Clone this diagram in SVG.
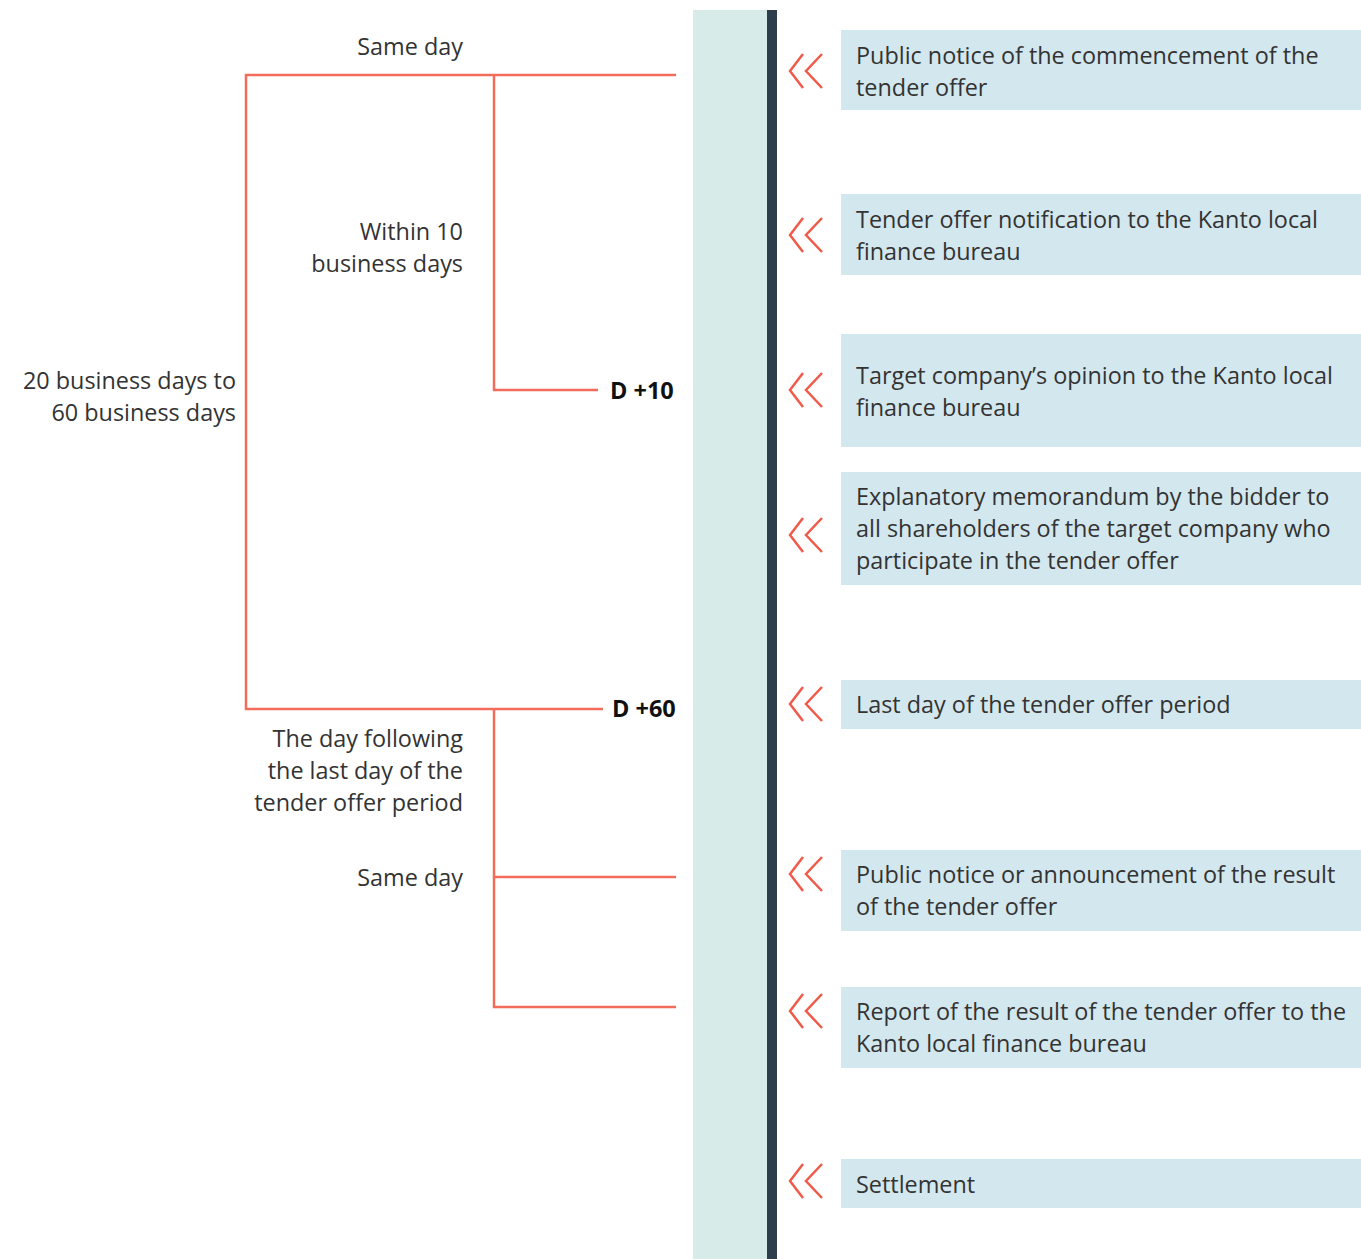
<svg xmlns="http://www.w3.org/2000/svg" width="1361" height="1259" viewBox="0 0 1361 1259">
  <style>
    .lbl { font-family: "Open Sans", "Noto Sans", "Liberation Sans", sans-serif; font-size: 23.4px; fill: #333333; }
    .day { font-family: "Open Sans", "Noto Sans", "Liberation Sans", sans-serif; font-size: 23.5px; font-weight: bold; fill: #111111; }
    .end { text-anchor: end; }
    .box { fill: #d3e7ee; }
    .link { stroke: #f26b5b; stroke-width: 2.5; fill: none; }
    .chev { stroke: #f05a4a; stroke-width: 2.5; fill: none; }
  </style>
  <defs>
    <path id="chevrons" d="M13,-17 L0,0 L13,17 M32,-17 L16,0 L32,17"/>
  </defs>
  <rect width="1361" height="1259" fill="#ffffff"/>

  <!-- timeline column -->
  <g id="timeline">
    <rect x="693" y="10" width="74" height="1249" fill="#d7ece9"/>
    <rect x="767" y="10" width="10" height="1249" fill="#2c3e4c"/>
  </g>

  <!-- bracket connectors -->
  <g id="connectors" class="link">
    <polyline points="676,75 246,75 246,709 603,709"/>
    <polyline points="494,75 494,390 598,390"/>
    <polyline points="494,709 494,1007 676,1007"/>
    <line x1="494" y1="877" x2="676" y2="877"/>
  </g>

  <!-- interval labels -->
  <g id="labels">
    <text class="lbl end" x="463" y="55">Same day</text>
    <text class="lbl end" x="463" y="240">Within 10</text>
    <text class="lbl end" x="463" y="272">business days</text>
    <text class="lbl end" x="236" y="389">20 business days to</text>
    <text class="lbl end" x="236" y="421">60 business days</text>
    <text class="lbl end" x="463" y="747">The day following</text>
    <text class="lbl end" x="463" y="779">the last day of the</text>
    <text class="lbl end" x="463" y="811">tender offer period</text>
    <text class="lbl end" x="463" y="886">Same day</text>
    <text class="day" x="610" y="399">D +10</text>
    <text class="day" x="612" y="717">D +60</text>
  </g>

  <!-- events -->
  <g id="event-1">
    <use href="#chevrons" class="chev" x="790" y="71"/>
    <rect class="box" x="841" y="30" width="520" height="80"/>
    <text class="lbl" x="856" y="64">Public notice of the commencement of the</text>
    <text class="lbl" x="856" y="96">tender offer</text>
  </g>
  <g id="event-2">
    <use href="#chevrons" class="chev" x="790" y="235"/>
    <rect class="box" x="841" y="194" width="520" height="81"/>
    <text class="lbl" x="856" y="228">Tender offer notification to the Kanto local</text>
    <text class="lbl" x="856" y="260">finance bureau</text>
  </g>
  <g id="event-3">
    <use href="#chevrons" class="chev" x="790" y="390"/>
    <rect class="box" x="841" y="334" width="520" height="113"/>
    <text class="lbl" x="856" y="384">Target company’s opinion to the Kanto local</text>
    <text class="lbl" x="856" y="416">finance bureau</text>
  </g>
  <g id="event-4">
    <use href="#chevrons" class="chev" x="790" y="535"/>
    <rect class="box" x="841" y="472" width="520" height="113"/>
    <text class="lbl" x="856" y="505">Explanatory memorandum by the bidder to</text>
    <text class="lbl" x="856" y="537">all shareholders of the target company who</text>
    <text class="lbl" x="856" y="569">participate in the tender offer</text>
  </g>
  <g id="event-5">
    <use href="#chevrons" class="chev" x="790" y="704"/>
    <rect class="box" x="841" y="680" width="520" height="49"/>
    <text class="lbl" x="856" y="713">Last day of the tender offer period</text>
  </g>
  <g id="event-6">
    <use href="#chevrons" class="chev" x="790" y="874"/>
    <rect class="box" x="841" y="850" width="520" height="81"/>
    <text class="lbl" x="856" y="883">Public notice or announcement of the result</text>
    <text class="lbl" x="856" y="915">of the tender offer</text>
  </g>
  <g id="event-7">
    <use href="#chevrons" class="chev" x="790" y="1011"/>
    <rect class="box" x="841" y="987" width="520" height="81"/>
    <text class="lbl" x="856" y="1020">Report of the result of the tender offer to the</text>
    <text class="lbl" x="856" y="1052">Kanto local finance bureau</text>
  </g>
  <g id="event-8">
    <use href="#chevrons" class="chev" x="790" y="1181"/>
    <rect class="box" x="841" y="1159" width="520" height="49"/>
    <text class="lbl" x="856" y="1193">Settlement</text>
  </g>
</svg>
